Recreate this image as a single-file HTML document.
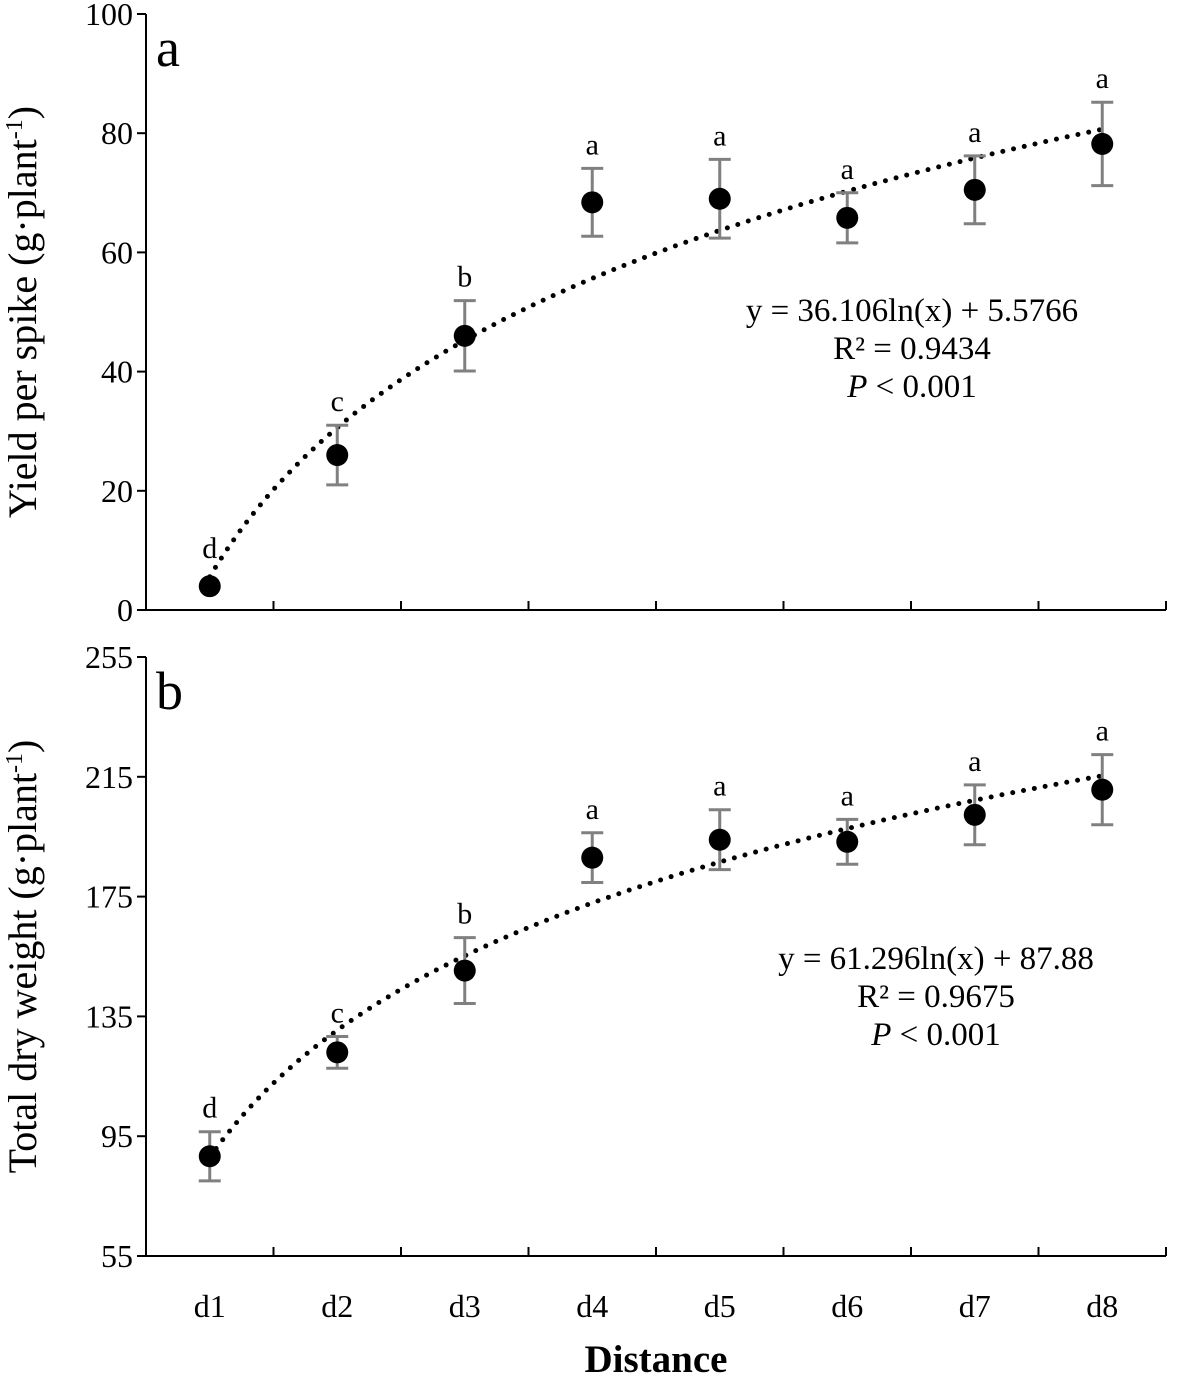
<!DOCTYPE html>
<html><head><meta charset="utf-8"><style>
body{margin:0;background:#fff}
svg text{font-family:"Liberation Serif",serif;fill:#000}
</style></head><body>
<svg id="c" width="1181" height="1375" xmlns="http://www.w3.org/2000/svg"></svg>
<script>
const categories=["d1","d2","d3","d4","d5","d6","d7","d8"];
const yieldVals=[4,26,46,68.4,69,65.8,70.5,78.2];
const yieldErr=[0,5,5.9,5.7,6.6,4.2,5.7,7];
const yieldLetters=["d","c","b","a","a","a","a","a"];
const yieldTicks=[0,20,40,60,80,100];
const yieldFit=[36.106,5.5766];
const dryVals=[88.3,123,150.3,188,194,193.3,202.3,210.7];
const dryErr=[8.2,5.3,11,8.3,10,7.5,10,11.7];
const dryLetters=["d","c","b","a","a","a","a","a"];
const dryTicks=[55,95,135,175,215,255];
const dryFit=[61.296,87.88];

const svg=document.getElementById('c');
const NS="http://www.w3.org/2000/svg";
function mk(t,a,txt){const e=document.createElementNS(NS,t);for(const k in a)e.setAttribute(k,a[k]);if(txt!=null)e.textContent=txt;svg.appendChild(e);return e;}
const x0=146,x1=1166;
const xs=i=>x0+(x1-x0)/8*(i+0.5);

function panel(p){
  const ys=v=>p.bot-(v-p.min)/(p.max-p.min)*(p.bot-p.top);
  let e=mk('line',{x1:x0,y1:p.top,x2:x0,y2:p.bot,stroke:'#000','stroke-width':2});
  
  e=mk('line',{x1:x0,y1:p.bot,x2:x1,y2:p.bot,stroke:'#000','stroke-width':2});
  
  for(let i=1;i<=8;i++){const x=x0+(x1-x0)/8*i;
    e=mk('line',{x1:x,y1:p.bot,x2:x,y2:p.bot-9,stroke:'#000','stroke-width':2});
    }
  p.ticks.forEach(t=>{const y=ys(t);
    e=mk('line',{x1:x0-9,y1:y,x2:x0,y2:y,stroke:'#000','stroke-width':2});
    
    e=mk('text',{x:x0-13,y:y+11,'font-size':32,'text-anchor':'end'},t);
    });
  let d='';for(let k=0;k<=140;k++){const xv=1+7*k/140;const v=p.fit[0]*Math.log(xv)+p.fit[1];d+=(k?'L':'M')+(xs(xv-1)).toFixed(1)+','+ys(v).toFixed(1);}
  e=mk('path',{d:d,fill:'none',stroke:'#000','stroke-width':5,'stroke-linecap':'round','stroke-dasharray':'0 11'});
  
  p.vals.forEach((v,i)=>{const x=xs(i);
    if(p.err[i]>0){const a=ys(v+p.err[i]),b=ys(v-p.err[i]);
      e=mk('path',{d:`M${x},${a}V${b}M${x-11},${a}H${x+11}M${x-11},${b}H${x+11}`,stroke:'#808080','stroke-width':3,fill:'none'});
      }
    e=mk('circle',{cx:x,cy:ys(v),r:11,fill:'#000'});
    
    const ty=(p.err[i]>0?ys(v+p.err[i]):ys(v)-14)-14;
    e=mk('text',{x:x,y:ty,'font-size':30,'text-anchor':'middle'},p.letters[i]);
    });
  e=mk('text',{x:156,y:p.top+52,'font-size':54},p.id);
  
  const ylab=mk('text',{transform:`translate(36,${(p.top+p.bot)/2}) rotate(-90)`,'font-size':40,'text-anchor':'middle'});
  ylab.innerHTML=p.ylabel+' (g·plant<tspan dy="-14" font-size="24">-1</tspan><tspan dy="14">)</tspan>';
  
  p.eq.forEach((s,j)=>{e=mk('text',{x:p.eqx,y:p.eqy+j*38,'font-size':33,'text-anchor':'middle'});
    e.innerHTML=s;});
}
panel({id:'a',top:14,bot:610,min:0,max:100,ticks:yieldTicks,vals:yieldVals,err:yieldErr,letters:yieldLetters,fit:yieldFit,ylabel:'Yield per spike',eqx:912,eqy:321,
 eq:['y = 36.106ln(x) + 5.5766','R² = 0.9434','<tspan font-style="italic">P</tspan> &lt; 0.001']});
panel({id:'b',top:657,bot:1256,min:55,max:255,ticks:dryTicks,vals:dryVals,err:dryErr,letters:dryLetters,fit:dryFit,ylabel:'Total  dry weight',eqx:936,eqy:969,
 eq:['y = 61.296ln(x) + 87.88','R² = 0.9675','<tspan font-style="italic">P</tspan> &lt; 0.001']});
categories.forEach((c,i)=>{const e=mk('text',{x:xs(i),y:1317,'font-size':32,'text-anchor':'middle'},c);
 });
const xt=mk('text',{x:656,y:1372,'font-size':39,'font-weight':'bold','text-anchor':'middle'},'Distance');

</script>
</body></html>
